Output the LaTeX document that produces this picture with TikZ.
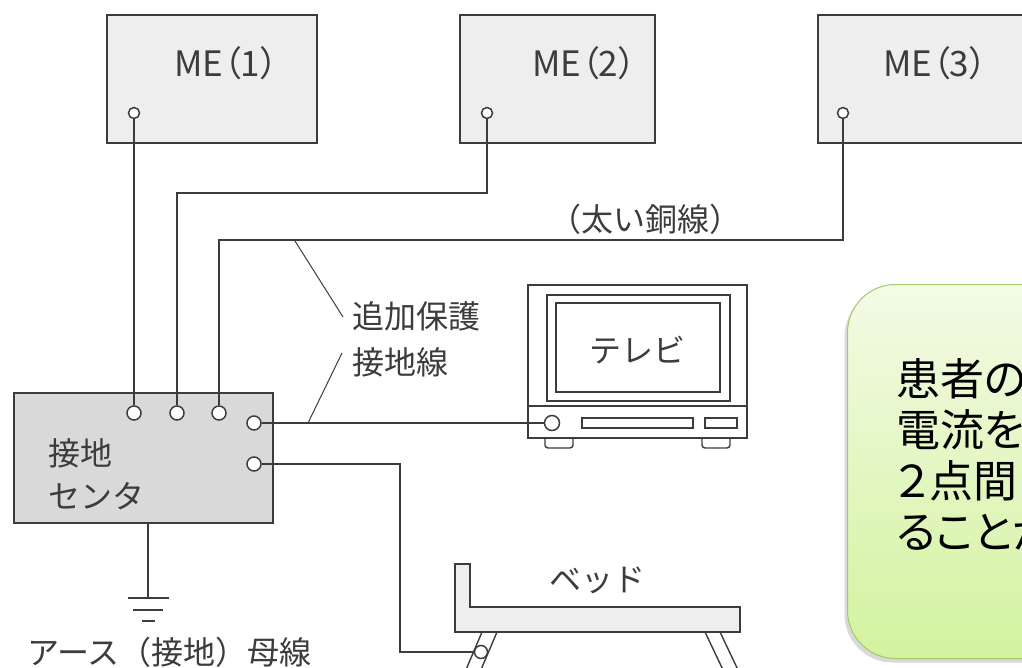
\documentclass[tikz,border=0pt]{standalone}
\usepackage{fontspec}
\setmainfont{Noto Sans CJK JP}
\newfontfamily\tagfont[RawFeature=+palt]{Noto Sans CJK JP}
\usetikzlibrary{shadows}

\definecolor{ink}{HTML}{3C3C3C}
\definecolor{meshade}{HTML}{EEEEEE}
\definecolor{gcshade}{HTML}{D9D9D9}
\definecolor{notetop}{HTML}{F3FBE6}
\definecolor{notebot}{HTML}{D3F29E}
\definecolor{noteedge}{HTML}{A4C86A}

\tikzset{
  mebox/.style={draw=ink, line width=2pt, fill=meshade, inner sep=0pt},
  gcbox/.style={draw=ink, line width=2.4pt, fill=gcshade, inner sep=0pt},
  term/.style={circle, draw=ink, line width=1.5pt, fill=white, inner sep=0pt, minimum size=#1},
  term/.default=10pt,
  wire/.style={draw=ink, line width=1.5pt},
  lbl/.style={text=ink, font=\fontsize{32}{36}\selectfont, inner sep=0pt},
  melbl/.style={text=ink, font=\tagfont\fontsize{35}{40}\selectfont, inner sep=0pt},
  notetxt/.style={text=black, font=\tagfont\fontsize{44}{51}\selectfont, inner sep=0pt},
}

\begin{document}
\begin{tikzpicture}[x=1pt, y=-1pt]
\useasboundingbox (0,0) rectangle (1022,668);
\clip (0,0) rectangle (1022,668);

\node[mebox, minimum width=210, minimum height=128] (me1) at (212,79) {};
\node[mebox, minimum width=195, minimum height=128] (me2) at (557.5,79) {};
\node[mebox, minimum width=240, minimum height=128] (me3) at (938,79) {};
\node[melbl] (me1l) at (226,63) {ME（1）};
\node[melbl] (me2l) at (584,63) {ME（2）};
\node[melbl] (me3l) at (935,63) {ME（3）};
\node[term=11pt] (t1) at (134,113) {};
\node[term=11pt] (t2) at (487,113) {};
\node[term=11pt] (t3) at (843,113) {};

\node[gcbox, minimum width=259, minimum height=130] (gc) at (143.5,458) {};
\node[lbl, anchor=west] (gcl1) at (48,453) {接地};
\node[lbl, anchor=west] (gcl2) at (48,496) {センタ};
\node[term=14pt] (g1) at (134,413) {};
\node[term=14pt] (g2) at (177,413) {};
\node[term=14pt] (g3) at (219,413) {};
\node[term=14pt] (g4) at (254,423) {};
\node[term=14pt] (g5) at (254,464) {};

\draw[wire] (t1) -- (g1);
\draw[wire] (t2) -- ++(0,80) -| (g2);
\draw[wire] (t3) -- ++(0,127) -| (g3);
\node[lbl] (thick) at (645,219) {（太い銅線）};

\coordinate (earth) at (148,598);
\draw[wire] (earth |- gc.south) -- (earth);
\draw[ink, line width=2pt] (128,598) -- (169,598) (133,610) -- (163,610) (142,621) -- (155,621);
\node[lbl, anchor=west] (busl) at (27,652) {アース（接地）母線};

\node[lbl, anchor=west] (pe1) at (352,316) {追加保護};
\node[lbl, anchor=west] (pe2) at (352,362) {接地線};
\draw[ink, line width=1pt] (295,241) -- (343,317);
\draw[ink, line width=1pt] (342,353) -- (308,423);

\draw[ink, line width=1.4pt, fill=white, rounded corners=3] (545,436) -- (545,448) -- (573,448) -- (573,436);
\draw[ink, line width=1.4pt, fill=white, rounded corners=3] (702,436) -- (702,448) -- (730,448) -- (730,436);
\node[draw=ink, line width=1.6pt, fill=white, minimum width=219, minimum height=153, inner sep=0pt] (tv) at (637.5,361.5) {};
\draw[ink, line width=1.2pt] (547,295) rectangle (730,401);
\draw[ink, line width=2pt] (556,303) rectangle (720,392);
\draw[ink, line width=1.2pt] (tv.west |- 0,406) -- (tv.east |- 0,406);
\draw[ink, line width=1.2pt] (582,418) rectangle (693,428) (705,418) rectangle (737,428);
\node[term=15pt] (tvt) at (552,423) {};
\node[lbl] (tvl) at (637,350) {テレビ};
\draw[wire] (g4) -- (tvt);

\draw[ink, line width=1.4pt, fill=white] (482,632) -- (497,632) -- (480,672) -- (465,672) -- cycle;
\draw[ink, line width=1.4pt, fill=white] (705,632) -- (720,632) -- (739,672) -- (724,672) -- cycle;
\draw[ink, line width=1.6pt, fill=meshade] (455,564) -- (470,564) -- (470,607) -- (740,607) -- (740,632) -- (455,632) -- cycle;
\node[term=13pt] (bedt) at (481,652) {};
\node[lbl] (bedl) at (597,580) {ベッド};
\coordinate (bend) at (400,652);
\draw[wire] (g5) -| (bend) -- (bedt);

\node[draw=noteedge, line width=1pt, rounded corners=48, top color=notetop, bottom color=notebot,
  drop shadow={opacity=0.3, shadow xshift=-3pt, shadow yshift=-4pt},
  minimum width=260, minimum height=374, anchor=north west] (note) at (847,284) {};
\foreach \t [count=\i] in {患者の,電流を,２点間,ることが}
  \node[notetxt, anchor=base west] (nl\i) at (896,344+51*\i) {\t};
\end{tikzpicture}
\end{document}
